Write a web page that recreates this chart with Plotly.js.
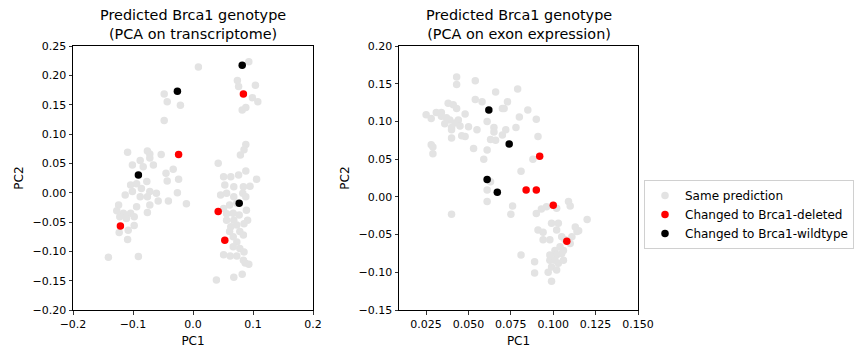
<!DOCTYPE html>
<html>
<head>
<meta charset="utf-8">
<script src="https://cdn.plot.ly/plotly-3.0.1.min.js"></script>
<style>html,body{margin:0;padding:0;background:#fff}#chart{width:864px;height:360px}</style>
</head>
<body>
<div id="chart"></div>
<script>
// ---- Left panel: PCA on transcriptome ----
const leftSameX = [0.009,0.093,0.074,0.076,0.104,0.099,0.108,0.082,0.088,-0.048,-0.043,-0.021,-0.048,
  0.088,0.085,0.079,0.042,0.051,0.063,0.076,0.088,0.106,0.095,0.053,0.068,0.084,0.046,0.056,0.068,0.083,0.088,
  0.061,0.073,0.089,0.051,0.056,0.067,0.077,0.056,0.068,0.091,0.063,0.073,0.085,0.061,0.078,0.067,0.084,0.073,
  0.067,0.078,0.085,0.051,0.062,0.073,0.084,0.087,0.093,0.039,0.068,0.082,
  -0.109,-0.076,-0.072,-0.053,-0.088,-0.072,-0.066,-0.101,-0.083,-0.033,-0.045,-0.043,-0.024,-0.104,-0.094,-0.077,
  -0.086,-0.101,-0.072,-0.061,-0.113,-0.088,-0.076,-0.026,-0.058,-0.041,-0.011,-0.124,-0.094,-0.072,-0.127,-0.116,
  -0.104,-0.076,-0.122,-0.111,-0.098,-0.123,-0.108,-0.098,-0.109,-0.141,-0.091];
const leftSameY = [0.214,0.223,0.191,0.181,0.183,0.162,0.155,0.141,0.145,0.168,0.155,0.149,0.123,
  0.082,0.073,0.064,0.050,0.027,0.027,0.030,0.037,0.023,0.011,0.013,0.010,0.010,-0.004,-0.001,-0.007,-0.001,-0.007,
  -0.021,-0.018,-0.030,-0.027,-0.036,-0.035,-0.038,-0.047,-0.047,-0.047,-0.058,-0.055,-0.053,-0.066,-0.066,-0.075,-0.072,-0.084,
  -0.092,-0.095,-0.101,-0.106,-0.108,-0.108,-0.115,-0.120,-0.122,-0.149,-0.144,-0.139,
  0.069,0.071,0.066,0.065,0.055,0.059,0.047,0.047,0.044,0.040,0.033,0.020,0.023,0.013,0.015,0.019,
  0.007,0.002,0.002,-0.001,-0.004,-0.007,-0.007,0.000,-0.014,-0.014,-0.019,-0.021,-0.024,-0.021,-0.031,-0.035,
  -0.035,-0.034,-0.041,-0.044,-0.041,-0.068,-0.064,-0.056,-0.080,-0.110,-0.109];
const leftDelX = [0.084,-0.024,0.042,0.053,-0.121];
const leftDelY = [0.168,0.065,-0.032,-0.081,-0.057];
const leftWtX = [0.082,-0.026,-0.091,0.077];
const leftWtY = [0.217,0.173,0.030,-0.018];

// ---- Right panel: PCA on exon expression ----
const rightSameX = [0.043,0.043,0.054,0.066,0.079,0.054,0.058,0.073,0.025,0.031,0.034,0.038,0.041,0.043,0.037,0.039,
  0.044,0.048,0.045,0.050,0.034,0.028,0.036,0.040,0.040,0.042,0.061,0.065,0.065,0.055,0.072,0.078,0.080,0.085,0.090,
  0.070,0.070,0.063,0.066,0.059,0.061,0.088,0.091,0.071,0.040,0.046,0.048,0.053,0.028,0.029,0.029,0.081,0.063,0.061,
  0.061,0.076,0.075,0.090,0.093,0.096,0.102,0.109,0.110,0.040,0.091,0.094,0.099,0.103,0.102,0.113,0.115,0.120,0.105,
  0.107,0.101,0.098,0.102,0.105,0.098,0.103,0.106,0.099,0.102,0.106,0.110,0.081,0.089,0.089,0.097,0.099,0.114,0.111,
  0.098,0.094,0.101,0.104];
const rightSameY = [0.159,0.149,0.154,0.139,0.143,0.129,0.126,0.126,0.109,0.112,0.112,0.124,0.122,0.117,0.105,0.102,
  0.102,0.110,0.094,0.093,0.107,0.104,0.097,0.092,0.089,0.098,0.100,0.092,0.086,0.089,0.089,0.092,0.106,0.115,0.103,
  0.117,0.082,0.076,0.075,0.050,0.062,0.050,0.080,0.117,0.078,0.081,0.080,0.064,0.069,0.066,0.057,0.034,0.020,0.009,
  -0.006,-0.012,-0.023,-0.022,-0.016,-0.013,-0.015,-0.006,-0.012,-0.023,-0.044,-0.047,-0.035,-0.035,-0.044,-0.040,-0.045,-0.030,-0.053,
  -0.057,-0.071,-0.077,-0.077,-0.075,-0.084,-0.088,-0.084,-0.093,-0.097,-0.071,-0.062,-0.077,-0.086,-0.101,-0.100,-0.112,-0.046,-0.053,
  -0.057,-0.057,-0.084,-0.066];
const rightDelX = [0.092,0.084,0.090,0.100,0.108];
const rightDelY = [0.054,0.009,0.009,-0.011,-0.059];
const rightWtX = [0.062,0.074,0.061,0.067];
const rightWtY = [0.115,0.070,0.023,0.006];

const seriesNames = ['Same prediction','Changed to Brca1-deleted','Changed to Brca1-wildtype'];
const seriesColors = ['#e3e3e3','#ff0000','#000000'];
const panelTitles = ['Predicted Brca1 genotype<br>(PCA on transcriptome)','Predicted Brca1 genotype<br>(PCA on exon expression)'];

const FONT = 'DejaVu Sans, sans-serif';
const MS = 7.5;

function tr(x, y, i, ax, show) {
  return {x: x, y: y, type: 'scatter', mode: 'markers', name: seriesNames[i],
    marker: {color: seriesColors[i], size: MS, line: {width: 0}},
    xaxis: ax[0], yaxis: ax[1], showlegend: show, hoverinfo: 'x+y'};
}

const data = [
  tr(leftSameX, leftSameY, 0, ['x','y'], true),
  tr(leftDelX, leftDelY, 1, ['x','y'], true),
  tr(leftWtX, leftWtY, 2, ['x','y'], true),
  tr(rightSameX, rightSameY, 0, ['x2','y2'], false),
  tr(rightDelX, rightDelY, 1, ['x2','y2'], false),
  tr(rightWtX, rightWtY, 2, ['x2','y2'], false)
];

const axBase = {showgrid: false, zeroline: false, showline: true, mirror: true, linecolor: '#000', linewidth: 1,
  ticks: 'outside', ticklen: 3.5, tickwidth: 0.8, tickcolor: '#000',
  tickfont: {family: FONT, size: 11, color: '#000'}, automargin: false};

const yDom = [1 - 310/360, 1 - 46/360];
const TF = {family: FONT, size: 12, color: '#000'};

const layout = {
  width: 864, height: 360,
  margin: {l: 0, r: 0, t: 0, b: 0},
  paper_bgcolor: '#fff', plot_bgcolor: '#fff',
  font: {family: FONT, size: 11, color: '#000'},
  xaxis: Object.assign({}, axBase, {domain: [73/864, 313/864], range: [-0.2, 0.2], tickvals: [-0.2,-0.1,0,0.1,0.2], tickformat: '.1f',
    title: {text: 'PC1', font: TF, standoff: 6}, anchor: 'y'}),
  yaxis: Object.assign({}, axBase, {domain: yDom, range: [-0.2, 0.25], tickvals: [-0.2,-0.15,-0.1,-0.05,0,0.05,0.1,0.15,0.2,0.25], tickformat: '.2f',
    title: {text: 'PC2', font: TF, standoff: 6}, anchor: 'x'}),
  xaxis2: Object.assign({}, axBase, {domain: [399/864, 638/864], range: [0.009, 0.15], tickvals: [0.025,0.05,0.075,0.1,0.125,0.15], tickformat: '.3f',
    title: {text: 'PC1', font: TF, standoff: 6}, anchor: 'y2'}),
  yaxis2: Object.assign({}, axBase, {domain: yDom, range: [-0.15, 0.2], tickvals: [-0.15,-0.1,-0.05,0,0.05,0.1,0.15,0.2], tickformat: '.2f',
    title: {text: 'PC2', font: TF, standoff: 6}, anchor: 'x2'}),
  annotations: [
    {text: panelTitles[0], xref: 'paper', yref: 'paper', x: 193/864, y: 1 - 44/360, xanchor: 'center', yanchor: 'bottom',
      showarrow: false, font: {family: FONT, size: 14.4, color: '#000'}},
    {text: panelTitles[1], xref: 'paper', yref: 'paper', x: 518.5/864, y: 1 - 44/360, xanchor: 'center', yanchor: 'bottom',
      showarrow: false, font: {family: FONT, size: 14.4, color: '#000'}}
  ],
  legend: {x: 644/864, y: 1 - 180/360, xanchor: 'left', yanchor: 'top', bgcolor: '#fff', bordercolor: '#d0d0d0', borderwidth: 1,
    font: {family: FONT, size: 12, color: '#000'}, tracegroupgap: 0},
  showlegend: true
};

Plotly.newPlot('chart', data, layout, {staticPlot: true, displayModeBar: false});
</script>
</body>
</html>
